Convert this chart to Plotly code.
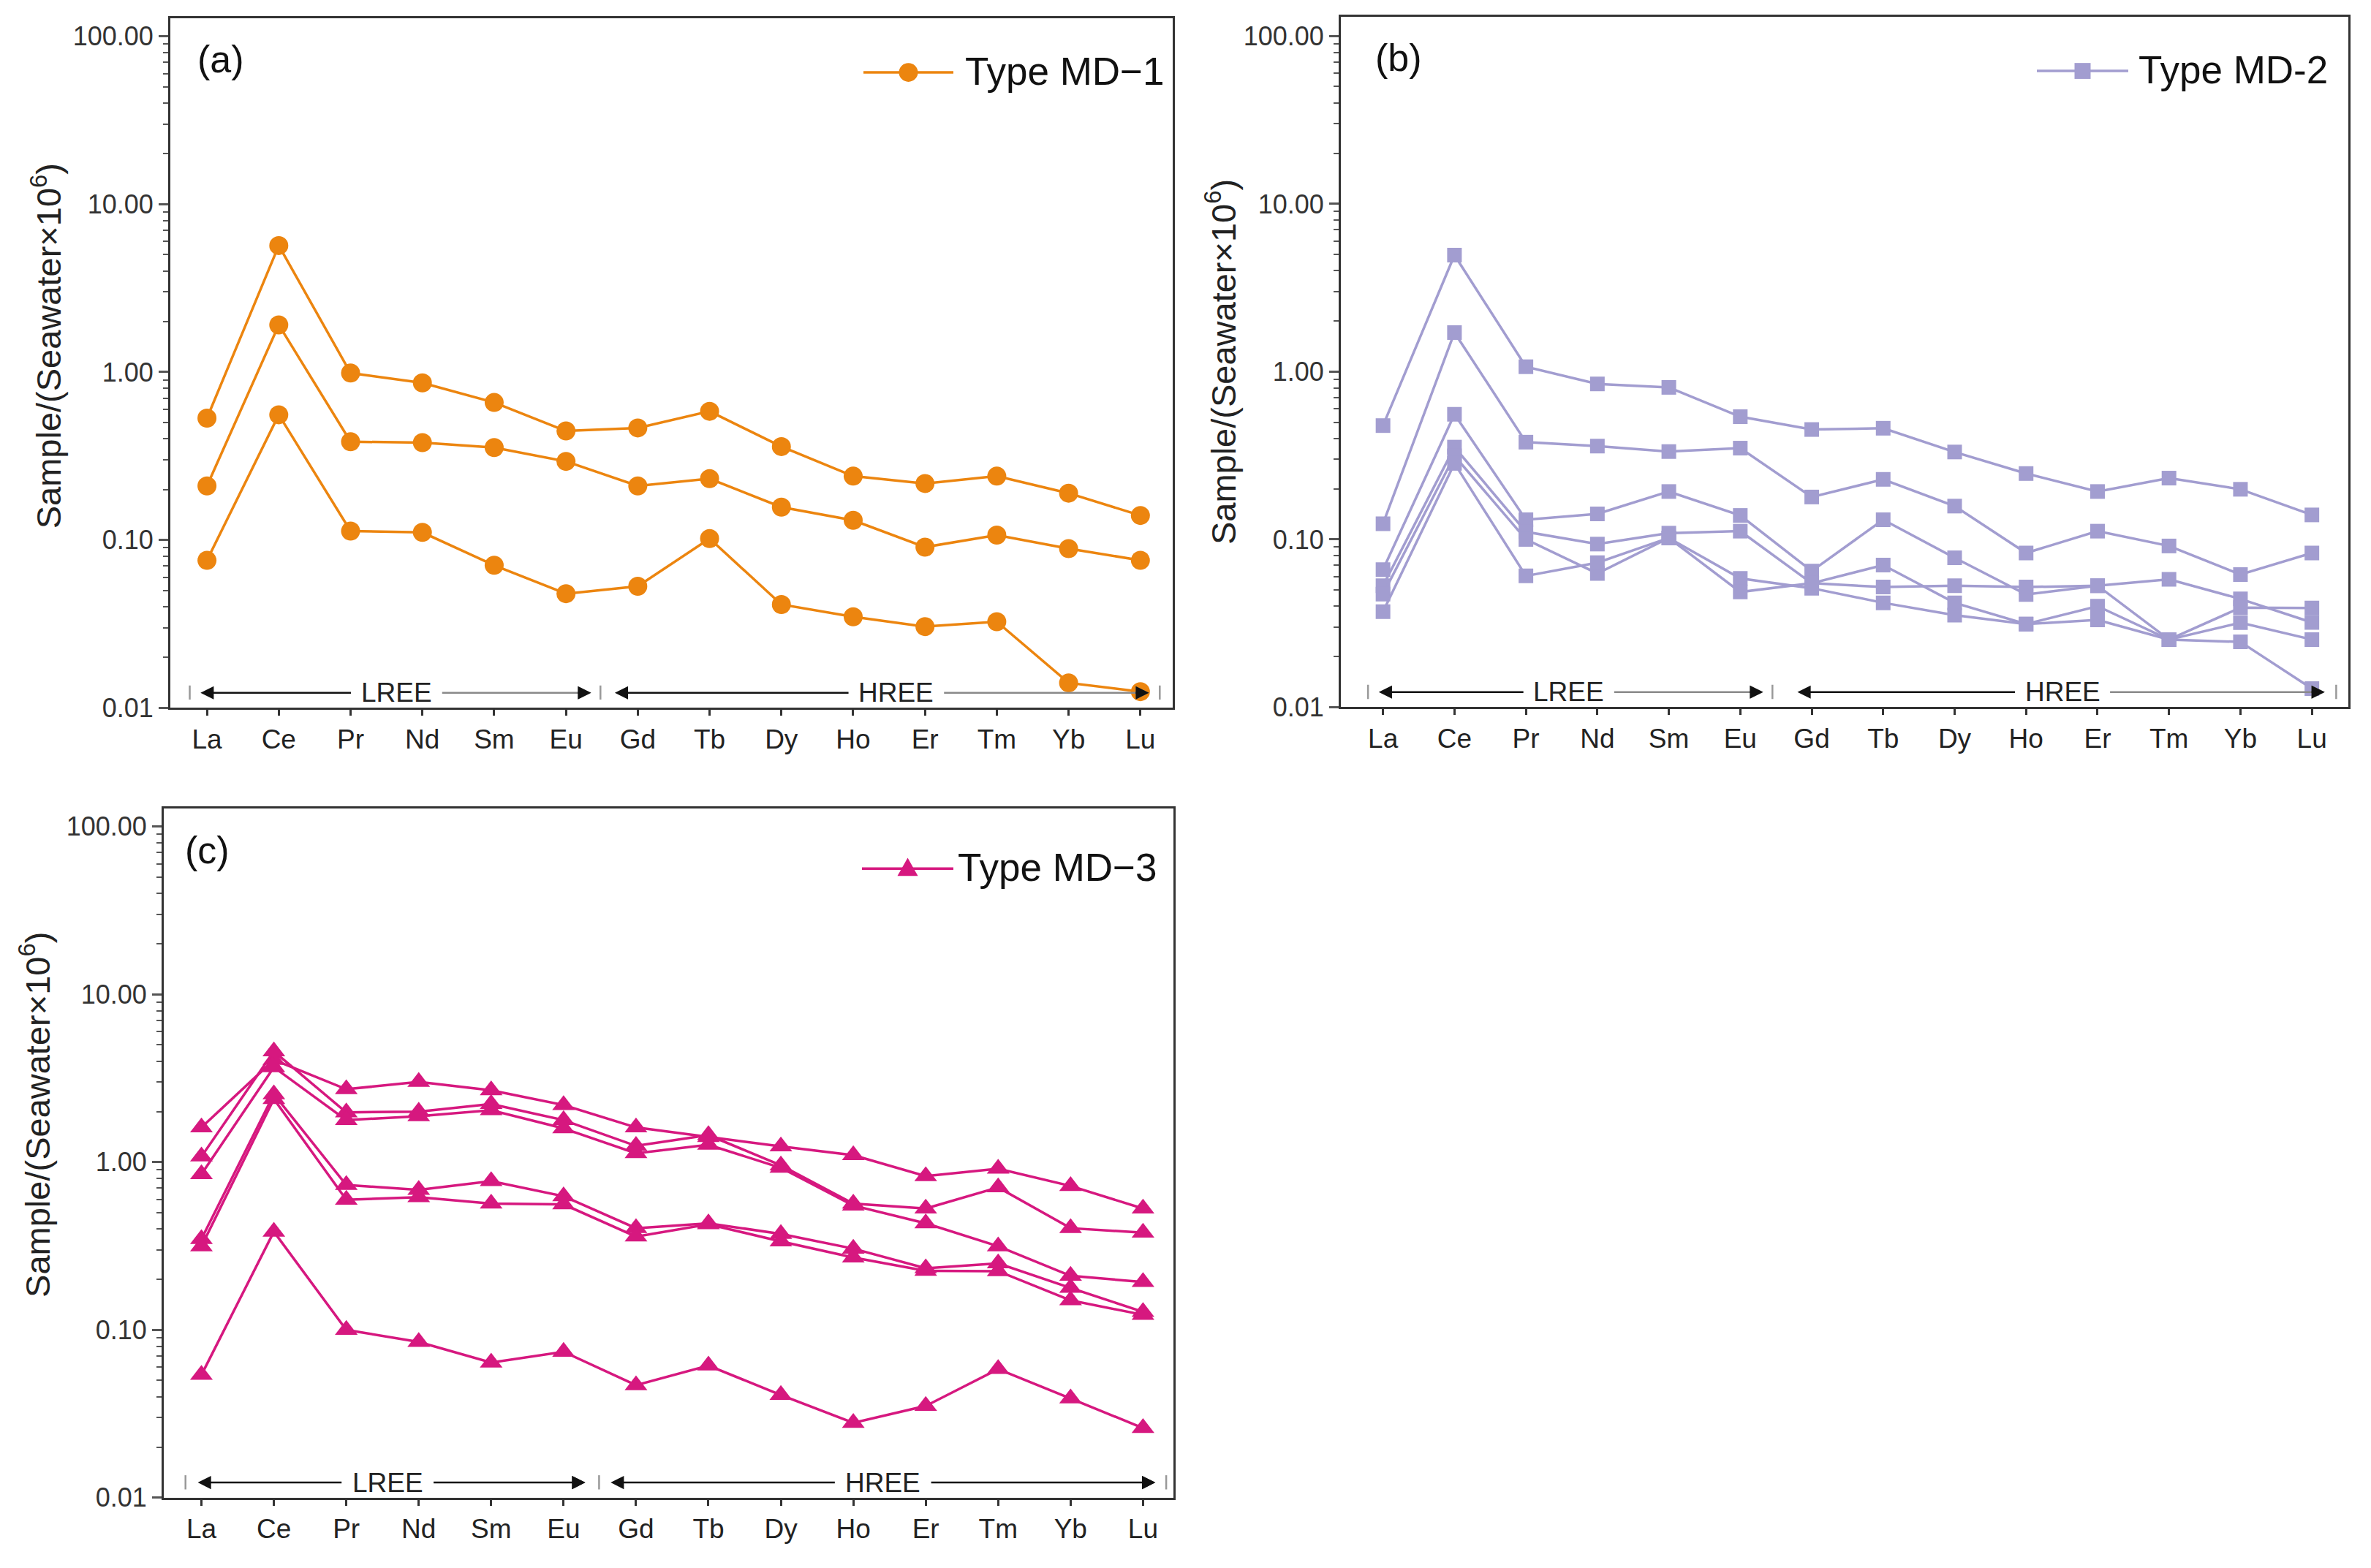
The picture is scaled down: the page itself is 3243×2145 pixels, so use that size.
import math
import plotly.graph_objects as go

W, H = 3243, 2145

elements = ["La", "Ce", "Pr", "Nd", "Sm", "Eu", "Gd", "Tb", "Dy", "Ho", "Er", "Tm", "Yb", "Lu"]

# Type MD-1 (panel a)
md1_s1 = [0.532, 5.67, 0.987, 0.863, 0.659, 0.446, 0.465, 0.584, 0.360, 0.240, 0.217, 0.240, 0.190, 0.140]
md1_s2 = [0.210, 1.91, 0.385, 0.380, 0.355, 0.294, 0.210, 0.232, 0.157, 0.131, 0.0907, 0.107, 0.0889, 0.0757]
md1_s3 = [0.0757, 0.557, 0.113, 0.111, 0.0707, 0.0479, 0.053, 0.102, 0.0413, 0.0349, 0.0305, 0.0326, 0.0141, 0.0125]

# Type MD-2 (panel b)
md2_s1 = [0.477, 4.95, 1.07, 0.845, 0.806, 0.539, 0.452, 0.46, 0.332, 0.247, 0.193, 0.232, 0.199, 0.14]
md2_s2 = [0.124, 1.71, 0.38, 0.36, 0.334, 0.35, 0.179, 0.228, 0.158, 0.083, 0.112, 0.0914, 0.0618, 0.083]
md2_s3 = [0.0661, 0.557, 0.131, 0.142, 0.193, 0.139, 0.0648, 0.131, 0.0777, 0.047, 0.053, 0.0578, 0.0442, 0.032]
md2_s4 = [0.053, 0.355, 0.111, 0.0938, 0.109, 0.112, 0.0548, 0.0703, 0.0419, 0.0313, 0.040, 0.0253, 0.0392, 0.039]
md2_s5 = [0.0472, 0.315, 0.100, 0.0627, 0.102, 0.0586, 0.0512, 0.0419, 0.0354, 0.0313, 0.0331, 0.0253, 0.0245, 0.0129]
md2_s6 = [0.0371, 0.284, 0.0606, 0.0727, 0.102, 0.0486, 0.0548, 0.052, 0.053, 0.052, 0.053, 0.0253, 0.0319, 0.0253]

# Type MD-3 (panel c)
md3_s1 = [1.61, 4.07, 2.72, 3.01, 2.68, 2.19, 1.61, 1.41, 1.24, 1.10, 0.825, 0.913, 0.721, 0.529]
md3_s2 = [1.08, 4.57, 1.98, 2.00, 2.22, 1.78, 1.25, 1.45, 0.957, 0.566, 0.529, 0.707, 0.404, 0.380]
md3_s3 = [0.848, 3.68, 1.78, 1.88, 2.04, 1.59, 1.13, 1.27, 0.925, 0.551, 0.432, 0.315, 0.210, 0.193]
md3_s4 = [0.348, 2.54, 0.731, 0.684, 0.771, 0.626, 0.404, 0.432, 0.373, 0.305, 0.233, 0.249, 0.178, 0.128]
md3_s5 = [0.315, 2.38, 0.597, 0.618, 0.566, 0.560, 0.360, 0.426, 0.337, 0.270, 0.225, 0.224, 0.150, 0.123]
md3_s6 = [0.0539, 0.385, 0.100, 0.0847, 0.0638, 0.074, 0.0468, 0.0613, 0.0409, 0.0279, 0.0352, 0.0584, 0.039, 0.026]

y_tick_vals = [0.01, 0.1, 1, 10, 100]
y_tick_text = ["0.01", "0.10", "1.00", "10.00", "100.00"]

ORANGE = "#EC850F"
PURPLE = "#A29DD0"
MAGENTA = "#D6187F"
FONT = "Liberation Sans, Arial, sans-serif"
AX = "#333333"


def px(x):
    return x / W


def py(y):
    return 1 - y / H


fig = go.Figure()

groups = [
    ("x", "y", [md1_s1, md1_s2, md1_s3], ORANGE, "circle", 26),
    ("x2", "y2", [md2_s1, md2_s2, md2_s3, md2_s4, md2_s5, md2_s6], PURPLE, "square", 20),
    ("x3", "y3", [md3_s1, md3_s2, md3_s3, md3_s4, md3_s5, md3_s6], MAGENTA, "triangle-up", 27),
]
for xa, ya, series, col, sym, msz in groups:
    for s in series:
        fig.add_trace(go.Scatter(
            x=elements, y=s, mode="lines+markers", xaxis=xa, yaxis=ya,
            line=dict(color=col, width=3.5),
            marker=dict(symbol=sym, size=msz, color=col, line=dict(width=0)),
            showlegend=False, hoverinfo="skip",
        ))

panels = [
    # name, x0, x1, ytop, ybot, xrange, ytoprange
    ("", 233, 1604, 25, 978, [-0.51, 13.45], 2.108),
    ("2", 1834, 3212, 23, 977, [-0.59, 13.51], 2.116),
    ("3", 224, 1605, 1117, 2069, [-0.52, 13.42], 2.108),
]
lay = {}
for nm, x0, x1, yt, yb, xr, ytr in panels:
    lay["xaxis" + nm] = dict(
        domain=[px(x0), px(x1)], anchor="y" + nm, type="category",
        categoryorder="array", categoryarray=elements, range=xr,
        ticks="outside", ticklen=8, tickwidth=2.5, tickcolor=AX,
        showline=True, linecolor=AX, linewidth=3, mirror=True,
        showgrid=False, zeroline=False,
        tickfont=dict(family=FONT, size=37, color="#222"),
    )
    lay["yaxis" + nm] = dict(
        domain=[py(yb), py(yt)], anchor="x" + nm, type="log", range=[-2, ytr],
        tickvals=y_tick_vals, ticktext=y_tick_text,
        ticks="outside", ticklen=13, tickwidth=2.5, tickcolor="#555",
        minor=dict(ticks="outside", ticklen=7, tickwidth=2, tickcolor="#555",
                   dtick="D1", showgrid=False),
        showline=True, linecolor=AX, linewidth=3, mirror=True,
        showgrid=False, zeroline=False,
        tickfont=dict(family=FONT, size=36, color="#333"),
    )

annotations = []
shapes = []

# LREE / HREE arrows (line broken around the label)
yv = math.log10(0.0123)
ree_specs = [
    ("x", "y", [-0.24, 5.48, 13.27], (-0.09, 5.35, 2.64), (5.68, 13.12, 9.60), "#8a8a8a"),
    ("x2", "y2", [-0.21, 5.45, 13.34], (-0.06, 5.32, 2.60), (5.80, 13.18, 9.51), "#8a8a8a"),
    ("x3", "y3", [-0.22, 5.49, 13.32], (-0.05, 5.30, 2.57), (5.65, 13.17, 9.41), "#111111"),
]
for xr_, yr_, bars, lre, hre, rcol in ree_specs:
    for b in bars:
        shapes.append(dict(type="line", xref=xr_, yref=yr_, x0=b, x1=b, y0=0.0112, y1=0.0136,
                           line=dict(color="#999999", width=2.5)))
    for (tl, tr, cen), lab, half in ((lre, "LREE", 0.62), (hre, "HREE", 0.65)):
        common = dict(xref=xr_, yref=yr_, axref=xr_, ayref=yr_, y=yv, ay=yv, text="",
                      showarrow=True, arrowhead=2, arrowsize=1.45, arrowwidth=2.5,
                      standoff=0, startstandoff=0)
        annotations.append(dict(common, x=tl, ax=cen - half, arrowcolor="#111111"))
        annotations.append(dict(common, x=tr, ax=cen + half, arrowcolor=rcol))
        annotations.append(dict(common, x=tr, ax=tr - 0.2, arrowcolor="#111111"))
        annotations.append(dict(xref=xr_, yref=yr_, x=cen, y=yv, text=lab, showarrow=False,
                                font=dict(family=FONT, size=37, color="#222")))

# panel labels
for txt, cx, cy in (("(a)", 302, 82), ("(b)", 1913, 80), ("(c)", 283, 1175)):
    annotations.append(dict(xref="paper", yref="paper", x=px(cx), y=py(cy), text=txt,
                            showarrow=False, xanchor="center", yanchor="middle",
                            font=dict(family=FONT, size=52, color="#111")))

# y-axis titles
for cx, cy in ((64, 478), (1670, 500), (48, 1540)):
    annotations.append(dict(xref="paper", yref="paper", x=px(cx), y=py(cy),
                            text="Sample/(Seawater×10<sup>6</sup>)", textangle=-90,
                            showarrow=False, xanchor="center", yanchor="middle",
                            font=dict(family=FONT, size=47, color="#222")))

# legends (drawn as keys)
legend_specs = [
    ("Type MD−1", ORANGE, "circle", 1181, 1304, 100, 1318),
    ("Type MD-2", PURPLE, "square", 2786, 2911, 98, 2923),
    ("Type MD−3", MAGENTA, "triangle", 1179, 1304, 1200, 1308),
]
for txt, col, sym, lx0, lx1, ly, tx in legend_specs:
    shapes.append(dict(type="line", xref="paper", yref="paper", x0=px(lx0), x1=px(lx1),
                       y0=py(ly), y1=py(ly), line=dict(color=col, width=3.5)))
    cx = (lx0 + lx1) / 2
    if sym == "circle":
        r = 13
        shapes.append(dict(type="circle", xref="paper", yref="paper", x0=px(cx - r), x1=px(cx + r),
                           y0=py(ly + r), y1=py(ly - r), fillcolor=col, line=dict(width=0)))
    elif sym == "square":
        r = 11
        shapes.append(dict(type="rect", xref="paper", yref="paper", x0=px(cx - r), x1=px(cx + r),
                           y0=py(ly + r), y1=py(ly - r), fillcolor=col, line=dict(width=0)))
    else:
        path = "M{},{} L{},{} L{},{} Z".format(px(cx), py(ly - 15), px(cx - 14), py(ly + 10),
                                               px(cx + 14), py(ly + 10))
        shapes.append(dict(type="path", xref="paper", yref="paper", path=path, fillcolor=col,
                           line=dict(width=0)))
    annotations.append(dict(xref="paper", yref="paper", x=px(tx), y=py(ly - 2), text=txt,
                            showarrow=False, xanchor="left", yanchor="middle",
                            font=dict(family=FONT, size=53, color="#111")))

fig.update_layout(
    width=W, height=H, margin=dict(l=0, r=0, t=0, b=0),
    paper_bgcolor="white", plot_bgcolor="white", showlegend=False,
    annotations=annotations, shapes=shapes, **lay,
)

fig.write_html("out.html", config={"displayModeBar": False},
               post_script="document.body.style.margin='0';document.body.style.overflow='hidden';")
